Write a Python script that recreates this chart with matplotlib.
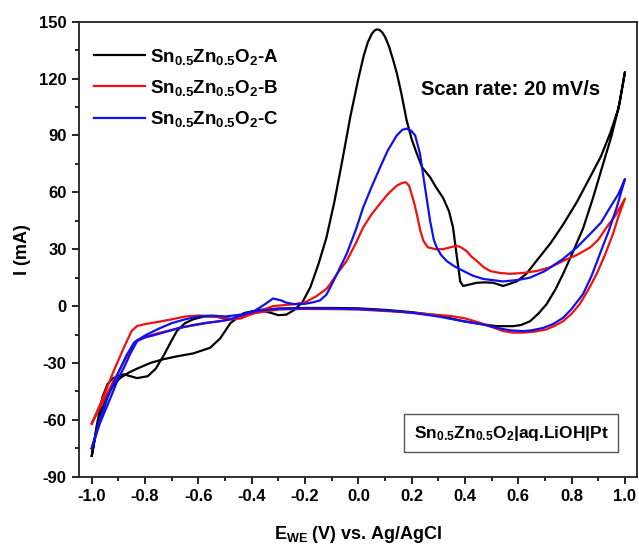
import matplotlib
matplotlib.use("Agg")
import matplotlib.pyplot as plt
from matplotlib.ticker import MultipleLocator

plt.rcParams['font.family'] = ['Liberation Sans', 'DejaVu Sans']
plt.rcParams['font.weight'] = 'bold'
plt.rcParams['mathtext.fontset'] = 'custom'
plt.rcParams['mathtext.rm'] = 'Liberation Sans:bold'
plt.rcParams['mathtext.bf'] = 'Liberation Sans:bold'
plt.rcParams['mathtext.default'] = 'bf'

# sample A (black): forward scan then reverse scan
a_fwd_e = [-1.0, -0.98, -0.96, -0.94, -0.92, -0.88, -0.83, -0.79, -0.76, -0.73, -0.70, -0.68,
           -0.65, -0.62, -0.58, -0.54, -0.50, -0.47, -0.44, -0.40, -0.36, -0.33, -0.30, -0.27,
           -0.24, -0.21, -0.18, -0.15, -0.12, -0.09, -0.06, -0.03, 0.0, 0.02, 0.035, 0.05,
           0.06, 0.07, 0.08, 0.09, 0.10, 0.115, 0.13, 0.144, 0.16, 0.181, 0.20, 0.219, 0.24,
           0.269, 0.29, 0.318, 0.34, 0.355, 0.368, 0.382, 0.393, 0.42, 0.444, 0.475, 0.505,
           0.543, 0.594, 0.63, 0.669, 0.72, 0.768, 0.82, 0.869, 0.91, 0.944, 0.975, 1.0]
a_fwd_i = [-79, -62, -48, -41, -38, -36, -38, -37, -33, -26, -18, -13,
           -9, -7, -5.5, -5.5, -6.5, -7, -5, -3, -2.5, -3.5, -4.8, -4.5,
           -2, 2, 10, 22, 36, 55, 77, 100, 120, 132, 139, 143.5,
           145.3, 146, 145.6, 144.3, 142, 137, 130, 123, 113, 98, 88, 80.5, 73,
           68, 63, 57, 50, 41.5, 27.5, 13, 10.6, 11.5, 12.3, 12.5, 12.3,
           10.6, 13, 17, 24, 33, 43, 55, 68, 79, 91, 104, 123.5]
a_rev_e = [1.0, 0.98, 0.95, 0.918, 0.88, 0.843, 0.80, 0.768, 0.74, 0.706, 0.675, 0.644, 0.61,
           0.58, 0.519, 0.46, 0.394, 0.30, 0.20, 0.10, 0.0, -0.10, -0.20, -0.30, -0.37, -0.43,
           -0.48, -0.518, -0.556, -0.62, -0.68, -0.73, -0.78, -0.83, -0.86, -0.894, -0.92,
           -0.94, -0.96, -0.98, -1.0]
a_rev_i = [123.5, 107, 90, 75, 57, 41, 27, 17, 9, 1, -4, -8, -10,
           -10.6, -10.6, -9.5, -8, -5, -3.2, -2, -1.2, -1, -1, -1.3, -2, -3.7,
           -9, -17, -22, -25, -26.5, -28, -30, -33, -35, -38, -42,
           -46.6, -54, -64, -79]

# sample B (red)
b_fwd_e = [-1.0, -0.96, -0.92, -0.88, -0.85, -0.83, -0.80, -0.75, -0.70, -0.65, -0.60, -0.55,
           -0.50, -0.47, -0.44, -0.42, -0.37, -0.32, -0.28, -0.24, -0.20, -0.16, -0.12, -0.106,
           -0.08, -0.044, -0.01, 0.018, 0.05, 0.081, 0.11, 0.144, 0.165, 0.178, 0.19, 0.2,
           0.21, 0.219, 0.232, 0.244, 0.26, 0.29, 0.318, 0.345, 0.368, 0.385, 0.406, 0.425,
           0.444, 0.47, 0.494, 0.53, 0.569, 0.62, 0.669, 0.72, 0.768, 0.82, 0.869, 0.90,
           0.931, 0.965, 1.0]
b_fwd_i = [-62, -49, -35, -22, -13, -10.5, -9.5, -8.3, -7, -5.5, -5, -5.3,
           -6.2, -7, -6.5, -5.3, -2.6, 0, 0.5, 1, 2, 5, 9, 11.6,
           17, 23.8, 33, 41.5, 48.5, 54, 59, 63.5, 65, 65.3, 63.5, 59,
           54, 48.6, 40, 34.4, 31, 30, 30, 31, 31.8, 31, 29, 26,
           23.8, 20.5, 18.5, 17.5, 17, 17.5, 18.5, 20.5, 23.8, 27, 30.9, 35,
           41.5, 48, 56.7]
b_rev_e = [1.0, 0.975, 0.955, 0.925, 0.894, 0.86, 0.83, 0.80, 0.768, 0.735, 0.706, 0.66,
           0.617, 0.58, 0.543, 0.50, 0.456, 0.40, 0.35, 0.269, 0.15, 0.0, -0.106, -0.20,
           -0.30, -0.40, -0.45, -0.50, -0.57, -0.67, -0.77, -0.83, -0.87, -0.92, -0.96, -1.0]
b_rev_i = [56.7, 47, 38, 27, 17, 8, 1, -4, -8, -10.5, -12.3, -13.5,
           -14, -14, -13.2, -11, -8.8, -6.5, -5.3, -4.3, -3, -1.8, -1.6, -1.5,
           -1.8, -4, -6, -7.5, -9, -11.5, -15, -18, -27, -40, -51, -62]

# sample C (blue)
c_fwd_e = [-1.0, -0.97, -0.93, -0.90, -0.88, -0.855, -0.83, -0.80, -0.77, -0.72, -0.67, -0.62,
           -0.57, -0.52, -0.48, -0.44, -0.39, -0.35, -0.32, -0.29, -0.27, -0.24, -0.20, -0.17,
           -0.144, -0.12, -0.106, -0.08, -0.044, -0.01, 0.018, 0.05, 0.081, 0.11, 0.144, 0.165,
           0.181, 0.198, 0.213, 0.231, 0.25, 0.269, 0.283, 0.294, 0.31, 0.331, 0.36, 0.394,
           0.43, 0.469, 0.543, 0.60, 0.644, 0.70, 0.768, 0.82, 0.869, 0.91, 0.944, 0.975, 1.0]
c_fwd_i = [-75, -62, -48.5, -38, -32.7, -25, -18.5, -16.5, -15.5, -13.5, -11.5, -10,
           -8.8, -8, -7, -5, -2.6, 1, 4, 3, 1.8, 1, 1.2, 2,
           3, 6, 9.7, 17, 27.5, 40, 52, 63, 73, 82, 90, 93,
           93.6, 92.5, 90, 80.5, 62.6, 45, 35, 30.9, 27, 23.8, 21, 18.5,
           16, 14.3, 13, 13.8, 15, 18.5, 24.9, 31, 38, 44, 52, 59, 67]
c_rev_e = [1.0, 0.969, 0.94, 0.906, 0.875, 0.843, 0.80, 0.768, 0.73, 0.694, 0.65, 0.619,
           0.57, 0.519, 0.46, 0.394, 0.30, 0.20, 0.10, 0.0, -0.10, -0.20, -0.30, -0.38,
           -0.44, -0.50, -0.55, -0.60, -0.65, -0.70, -0.75, -0.80, -0.84, -0.87, -0.90, -0.94,
           -0.97, -1.0]
c_rev_i = [67, 52, 40, 27.5, 16, 6.4, -1.5, -6.2, -9.5, -11.5, -12.8, -13.2,
           -12.8, -11.5, -9.5, -8, -5.5, -3.5, -2.3, -1.6, -1.3, -1.2, -1.5, -2.5,
           -4.5, -5.5, -5, -5.5, -7, -9, -12, -15.5, -19, -26, -35, -48,
           -60, -75]

labels = [r'Sn$_{0.5}$Zn$_{0.5}$O$_{2}$-A', r'Sn$_{0.5}$Zn$_{0.5}$O$_{2}$-B',
          r'Sn$_{0.5}$Zn$_{0.5}$O$_{2}$-C']
colors = ['black', '#ee1111', '#1111ee']

fig = plt.figure(figsize=(6.39, 5.50), dpi=100)
ax = fig.add_axes([0.124, 0.1333, 0.8724, 0.8272])

curves = [(a_fwd_e + a_rev_e, a_fwd_i + a_rev_i),
          (b_fwd_e + b_rev_e, b_fwd_i + b_rev_i),
          (c_fwd_e + c_rev_e, c_fwd_i + c_rev_i)]
for (e, i), c, lab in zip(curves, colors, labels):
    ax.plot(e, i, color=c, lw=1.6, label=lab, solid_joinstyle='round')

ax.set_xlim(-1.047, 1.044)
ax.set_ylim(-90, 150)
ax.xaxis.set_minor_locator(MultipleLocator(0.1))
ax.yaxis.set_minor_locator(MultipleLocator(15))
ax.set_xticks([-1.0, -0.8, -0.6, -0.4, -0.2, 0.0, 0.2, 0.4, 0.6, 0.8, 1.0])
ax.set_xticklabels(['-1.0', '-0.8', '-0.6', '-0.4', '-0.2', '0.0', '0.2', '0.4', '0.6', '0.8', '1.0'])
ax.set_yticks([-90, -60, -30, 0, 30, 60, 90, 120, 150])
ax.set_yticklabels(['-90', '-60', '-30', '0', '30', '60', '90', '120', '150'])
ax.tick_params(which='major', direction='out', length=5, width=1.2, labelsize=12, pad=4)
ax.tick_params(which='minor', direction='out', length=3, width=1.2)
for s in ax.spines.values():
    s.set_linewidth(1.3)
    s.set_color('#222222')

ax.set_xlabel(r'E$_{WE}$ (V) vs. Ag/AgCl', fontsize=13, fontweight='bold', labelpad=14)
ax.set_ylabel('I (mA)', fontsize=13, fontweight='bold', labelpad=6)

leg = ax.legend(loc='upper left', frameon=False, fontsize=13.5, handlelength=2.7,
                handletextpad=0.3, labelspacing=0.6, borderaxespad=0.4,
                bbox_to_anchor=(0.0, 0.978))
for line in leg.get_lines():
    line.set_linewidth(1.6)

ax.text(0.7745, 0.85, 'Scan rate: 20 mV/s', transform=ax.transAxes, fontsize=14.5,
        fontweight='bold', ha='center', va='center')
ax.text(0.7745, 0.096, r'Sn$_{0.5}$Zn$_{0.5}$O$_{2}$|aq.LiOH|Pt', transform=ax.transAxes,
        fontsize=12.5, fontweight='bold', ha='center', va='center',
        bbox=dict(boxstyle='square,pad=0.55', fc='white', ec='#555555', lw=1.0))

fig.savefig('out.png', dpi=100)
